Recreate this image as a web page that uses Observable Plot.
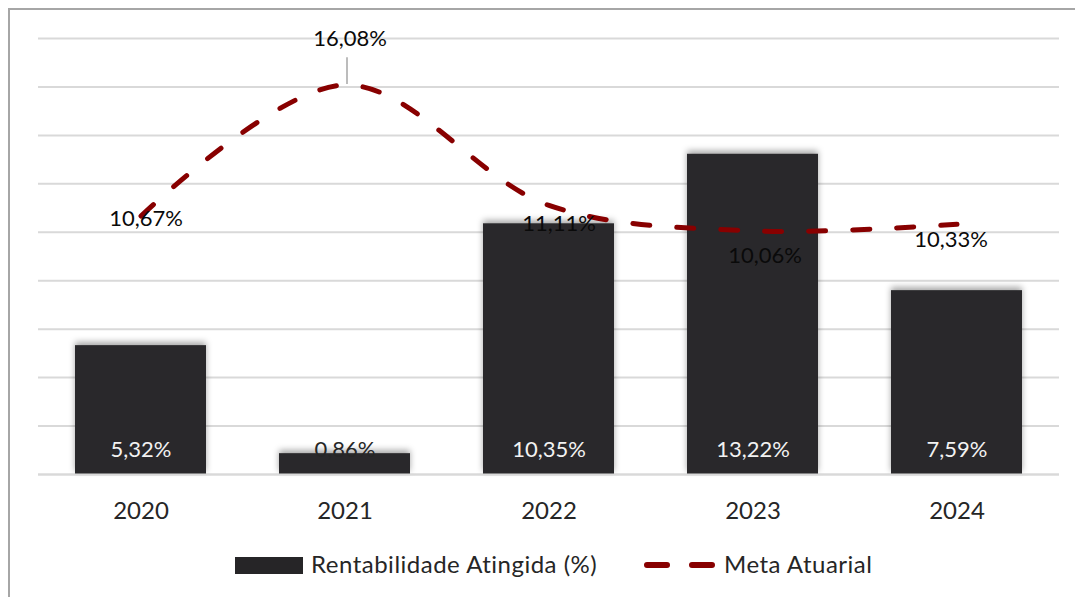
<!DOCTYPE html>
<html><head><meta charset="utf-8">
<script src="https://cdn.jsdelivr.net/npm/d3@7"></script>
<script src="https://cdn.jsdelivr.net/npm/@observablehq/plot@0.6"></script>
<style>
html,body{margin:0;padding:0;background:#fff;}
#wrap{position:relative;width:1075px;height:597px;overflow:hidden;font-family:Lato,"Open Sans",sans-serif;}
#frame{position:absolute;left:8px;top:8px;width:2000px;height:2000px;border-left:2px solid #a6a6a6;border-top:2px solid #a6a6a6;box-sizing:border-box;}
#chart{position:absolute;left:0;top:0;}
.leg{position:absolute;font-size:24px;letter-spacing:0.5px;color:#262626;line-height:1;white-space:nowrap;}
</style></head>
<body><div id="wrap"><div id="frame"></div><div id="chart"></div>
<div class="leg" style="left:235px;top:557px;width:68px;height:17px;background:#262527;"></div>
<div class="leg" style="left:311px;top:552px;">Rentabilidade Atingida (%)</div>
<svg class="leg" style="left:640px;top:557px;" width="80" height="16"><line x1="7" y1="8" x2="72" y2="8" stroke="#880000" stroke-width="6" stroke-linecap="round" stroke-dasharray="20 25"/></svg>
<div class="leg" style="left:724px;top:552px;">Meta Atuarial</div>
</div>
<script>
const years = ["2020","2021","2022","2023","2024"];
const rentabilidade = [5.32, 0.86, 10.35, 13.22, 7.59];
const meta = [10.67, 16.08, 11.11, 10.06, 10.33];
const gridTicks = [0,2,4,6,8,10,12,14,16,18];

const fmt = v => v.toFixed(2).replace(".", ",") + "%";
const bars = years.map((y,i) => ({year:y, v:rentabilidade[i]}));
const line = years.map((y,i) => ({year:y, v:meta[i]}));

const lineLabelOffsets = [[5,3],[5,-46],[10,19],[12,25],[-6,16]];
const textColor = "#262626";

const chart = Plot.plot({
  width: 1075, height: 540,
  marginTop: 38, marginBottom: 66, marginLeft: 38, marginRight: 16,
  style: {fontFamily: "Lato, 'Open Sans', sans-serif", background: "transparent"},
  x: {domain: years, paddingInner: 0.36, paddingOuter: 0.18, label: null},
  y: {domain: [0, 18], label: null, axis: null},
  marks: [
    Plot.gridY(gridTicks, {stroke: "#d9d9d9", strokeOpacity: 1, strokeWidth: 2}),
    Plot.barY(bars, {x: "year", y: "v", fill: "#29282b", imageFilter: "drop-shadow(0 -3px 3px rgba(0,0,0,0.35))"}),
    Plot.ruleY([0], {stroke: "#d9d9d9", strokeWidth: 2}),
    Plot.text(bars, {x: "year", y: 0, text: d => fmt(d.v), dy: -25, fontSize: 22,
      fill: d => d.v < 2 ? textColor : "#f2f2f2"}),
    Plot.line(line, {x: "year", y: "v", stroke: "#880000", strokeWidth: 5, curve: "catmull-rom",
      strokeDasharray: "17 27", strokeLinecap: "round"}),
    Plot.link([line[1]], {x1: "year", x2: "year", y1: d => d.v + 0.04, y2: d => d.v + 1.15, dx: 2, stroke: "#a6a6a6", strokeWidth: 1.5}),
    ...line.map((d, i) => Plot.text([d], {x: "year", y: "v", text: d => fmt(d.v), fontSize: 22, fill: "#0a0a0a",
      dx: lineLabelOffsets[i][0], dy: lineLabelOffsets[i][1]})),
    Plot.axisX({tickSize: 0, tickPadding: 27, fontSize: 24, color: textColor, label: null}),
  ]
});
document.getElementById("chart").appendChild(chart);
</script></body></html>
